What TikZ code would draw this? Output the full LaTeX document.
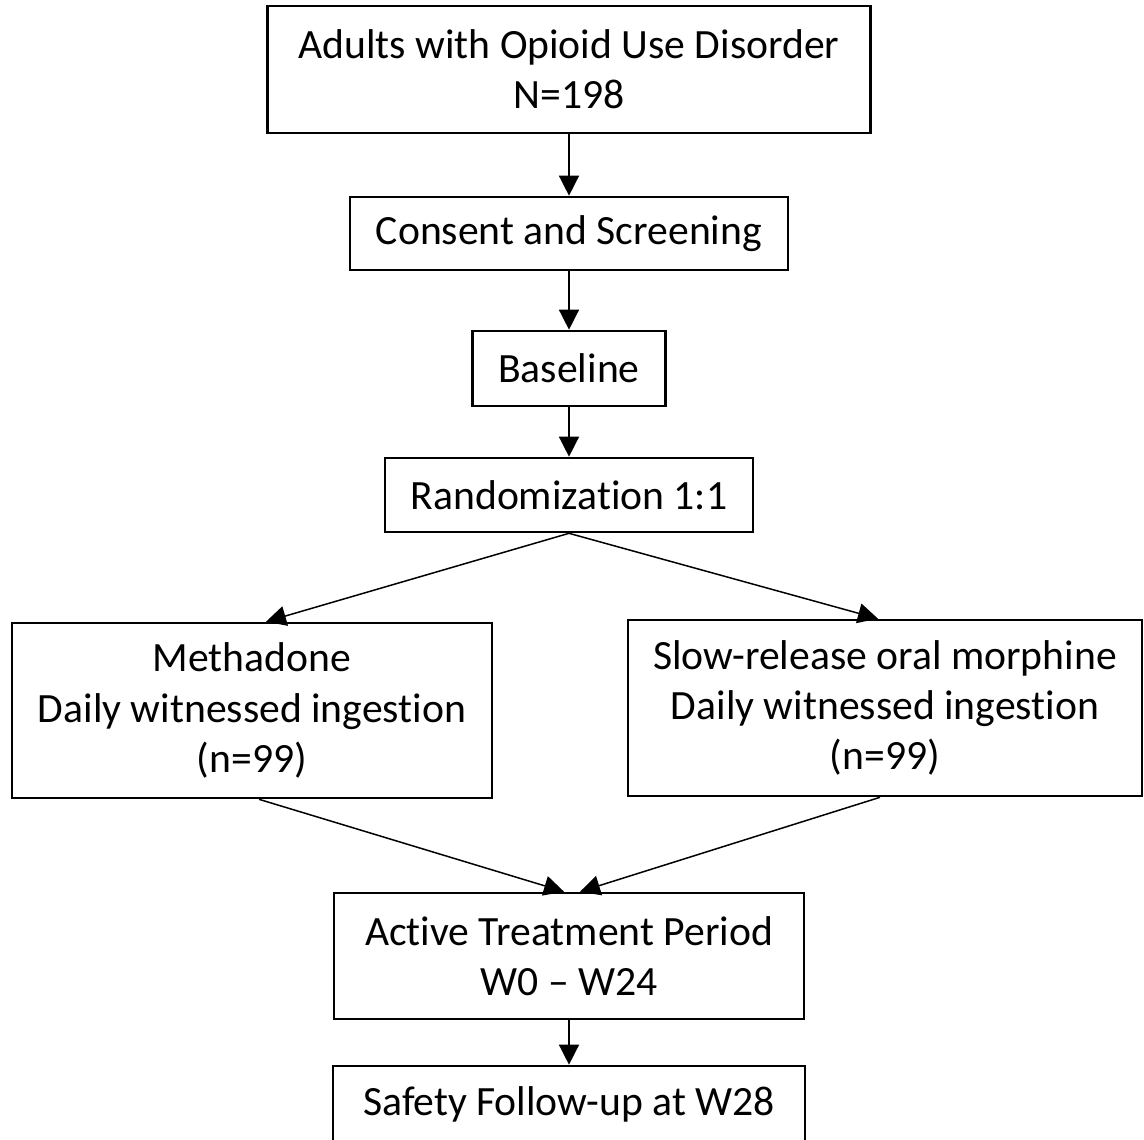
\documentclass[tikz,border=0pt]{standalone}
\usepackage{fontspec}
\setmainfont{Carlito}[Ligatures=NoCommon]
\usetikzlibrary{arrows.meta}

\begin{document}
\begin{tikzpicture}[
    flowbox/.style={
        draw,
        line width=1.5pt,
        font=\fontsize{23.7}{28.5}\selectfont,
        align=center,
        inner sep=0pt
    },
    flowarrow/.style={
        line width=0.85pt,
        -{Triangle[length=0.4cm, width=0.4cm]}
    }
]
\useasboundingbox (0,0) rectangle (22.88,22.8);
\node[flowbox, minimum width=12.06cm, minimum height=2.54cm] (adults) at (11.38,21.41) {Adults with Opioid Use Disorder\\N=198};
\node[flowbox, minimum width=8.76cm, minimum height=1.46cm] (consent) at (11.38,18.13) {Consent and Screening};
\node[flowbox, minimum width=3.86cm, minimum height=1.5cm] (baseline) at (11.38,15.43) {Baseline};
\node[flowbox, minimum width=7.36cm, minimum height=1.48cm] (random) at (11.38,12.9) {Randomization 1:1};
\node[flowbox, minimum width=9.6cm, minimum height=3.5cm] (methadone) at (5.04,8.59) {Methadone\\Daily witnessed ingestion\\(n=99)};
\node[flowbox, minimum width=10.28cm, minimum height=3.52cm] (morphine) at (17.7,8.64) {Slow-release oral morphine\\Daily witnessed ingestion\\(n=99)};
\node[flowbox, minimum width=9.4cm, minimum height=2.52cm] (active) at (11.38,3.68) {Active Treatment Period\\W0 -- W24};
\node[flowbox, minimum width=9.44cm, minimum height=1.52cm] (safety) at (11.38,0.72) {Safety Follow-up at W28};

\draw[flowarrow] (adults.south) -- (consent.north);
\draw[flowarrow] (consent.south) -- (baseline.north);
\draw[flowarrow] (baseline.south) -- (random.north);
\draw[flowarrow] (random.south) -- ([xshift=0.28cm]methadone.north);
\draw[flowarrow] (random.south) -- ([xshift=-0.14cm]morphine.north);
\draw[flowarrow] ([xshift=0.14cm]methadone.south) -- ([xshift=-0.1cm]active.north);
\draw[flowarrow] ([xshift=-0.1cm]morphine.south) -- ([xshift=0.22cm]active.north);
\draw[flowarrow] (active.south) -- (safety.north);
\end{tikzpicture}
\end{document}
